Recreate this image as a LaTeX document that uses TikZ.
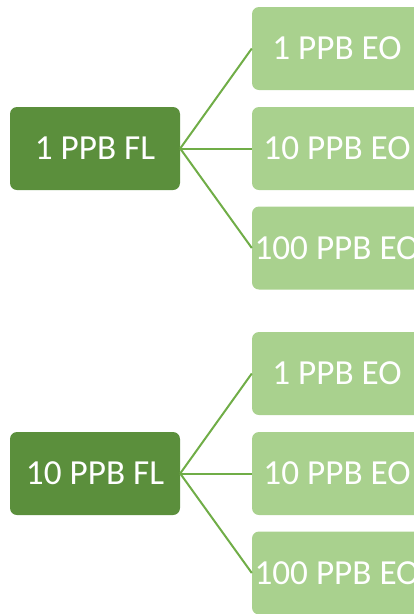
\documentclass[tikz,border=0pt]{standalone}
\usepackage{fontspec}
\setmainfont{Carlito}
\definecolor{darkg}{HTML}{5B8F3C}
\definecolor{lightg}{HTML}{A9D18E}
\definecolor{lineg}{HTML}{70AD47}
\begin{document}
\begin{tikzpicture}[x=1pt,y=-1pt,
  boxbase/.style={rounded corners=7pt, minimum width=170pt, minimum height=83pt,
    inner sep=0pt, text=white, font=\fontsize{35.2}{38}\selectfont, anchor=center},
  parentbox/.style={boxbase, fill=darkg},
  childbox/.style={boxbase, fill=lightg},
  conn/.style={draw=lineg, line width=2pt}]
\useasboundingbox (0,0) rectangle (414,614);
\clip (0,0) rectangle (414,614);
\node[parentbox] (p1) at (95,148.5) {1 PPB FL};
\node[childbox] (c11) at (337,48.5) {1 PPB EO};
\node[childbox] (c12) at (337,148.5) {10 PPB EO};
\node[childbox] (c13) at (337,248) {100 PPB EO};
\node[parentbox] (p2) at (95,473.5) {10 PPB FL};
\node[childbox] (c21) at (337,373.5) {1 PPB EO};
\node[childbox] (c22) at (337,473.5) {10 PPB EO};
\node[childbox] (c23) at (337,573) {100 PPB EO};
\foreach \c in {c11,c12,c13} \draw[conn] (p1.east) -- (\c.west);
\foreach \c in {c21,c22,c23} \draw[conn] (p2.east) -- (\c.west);
\end{tikzpicture}
\end{document}
